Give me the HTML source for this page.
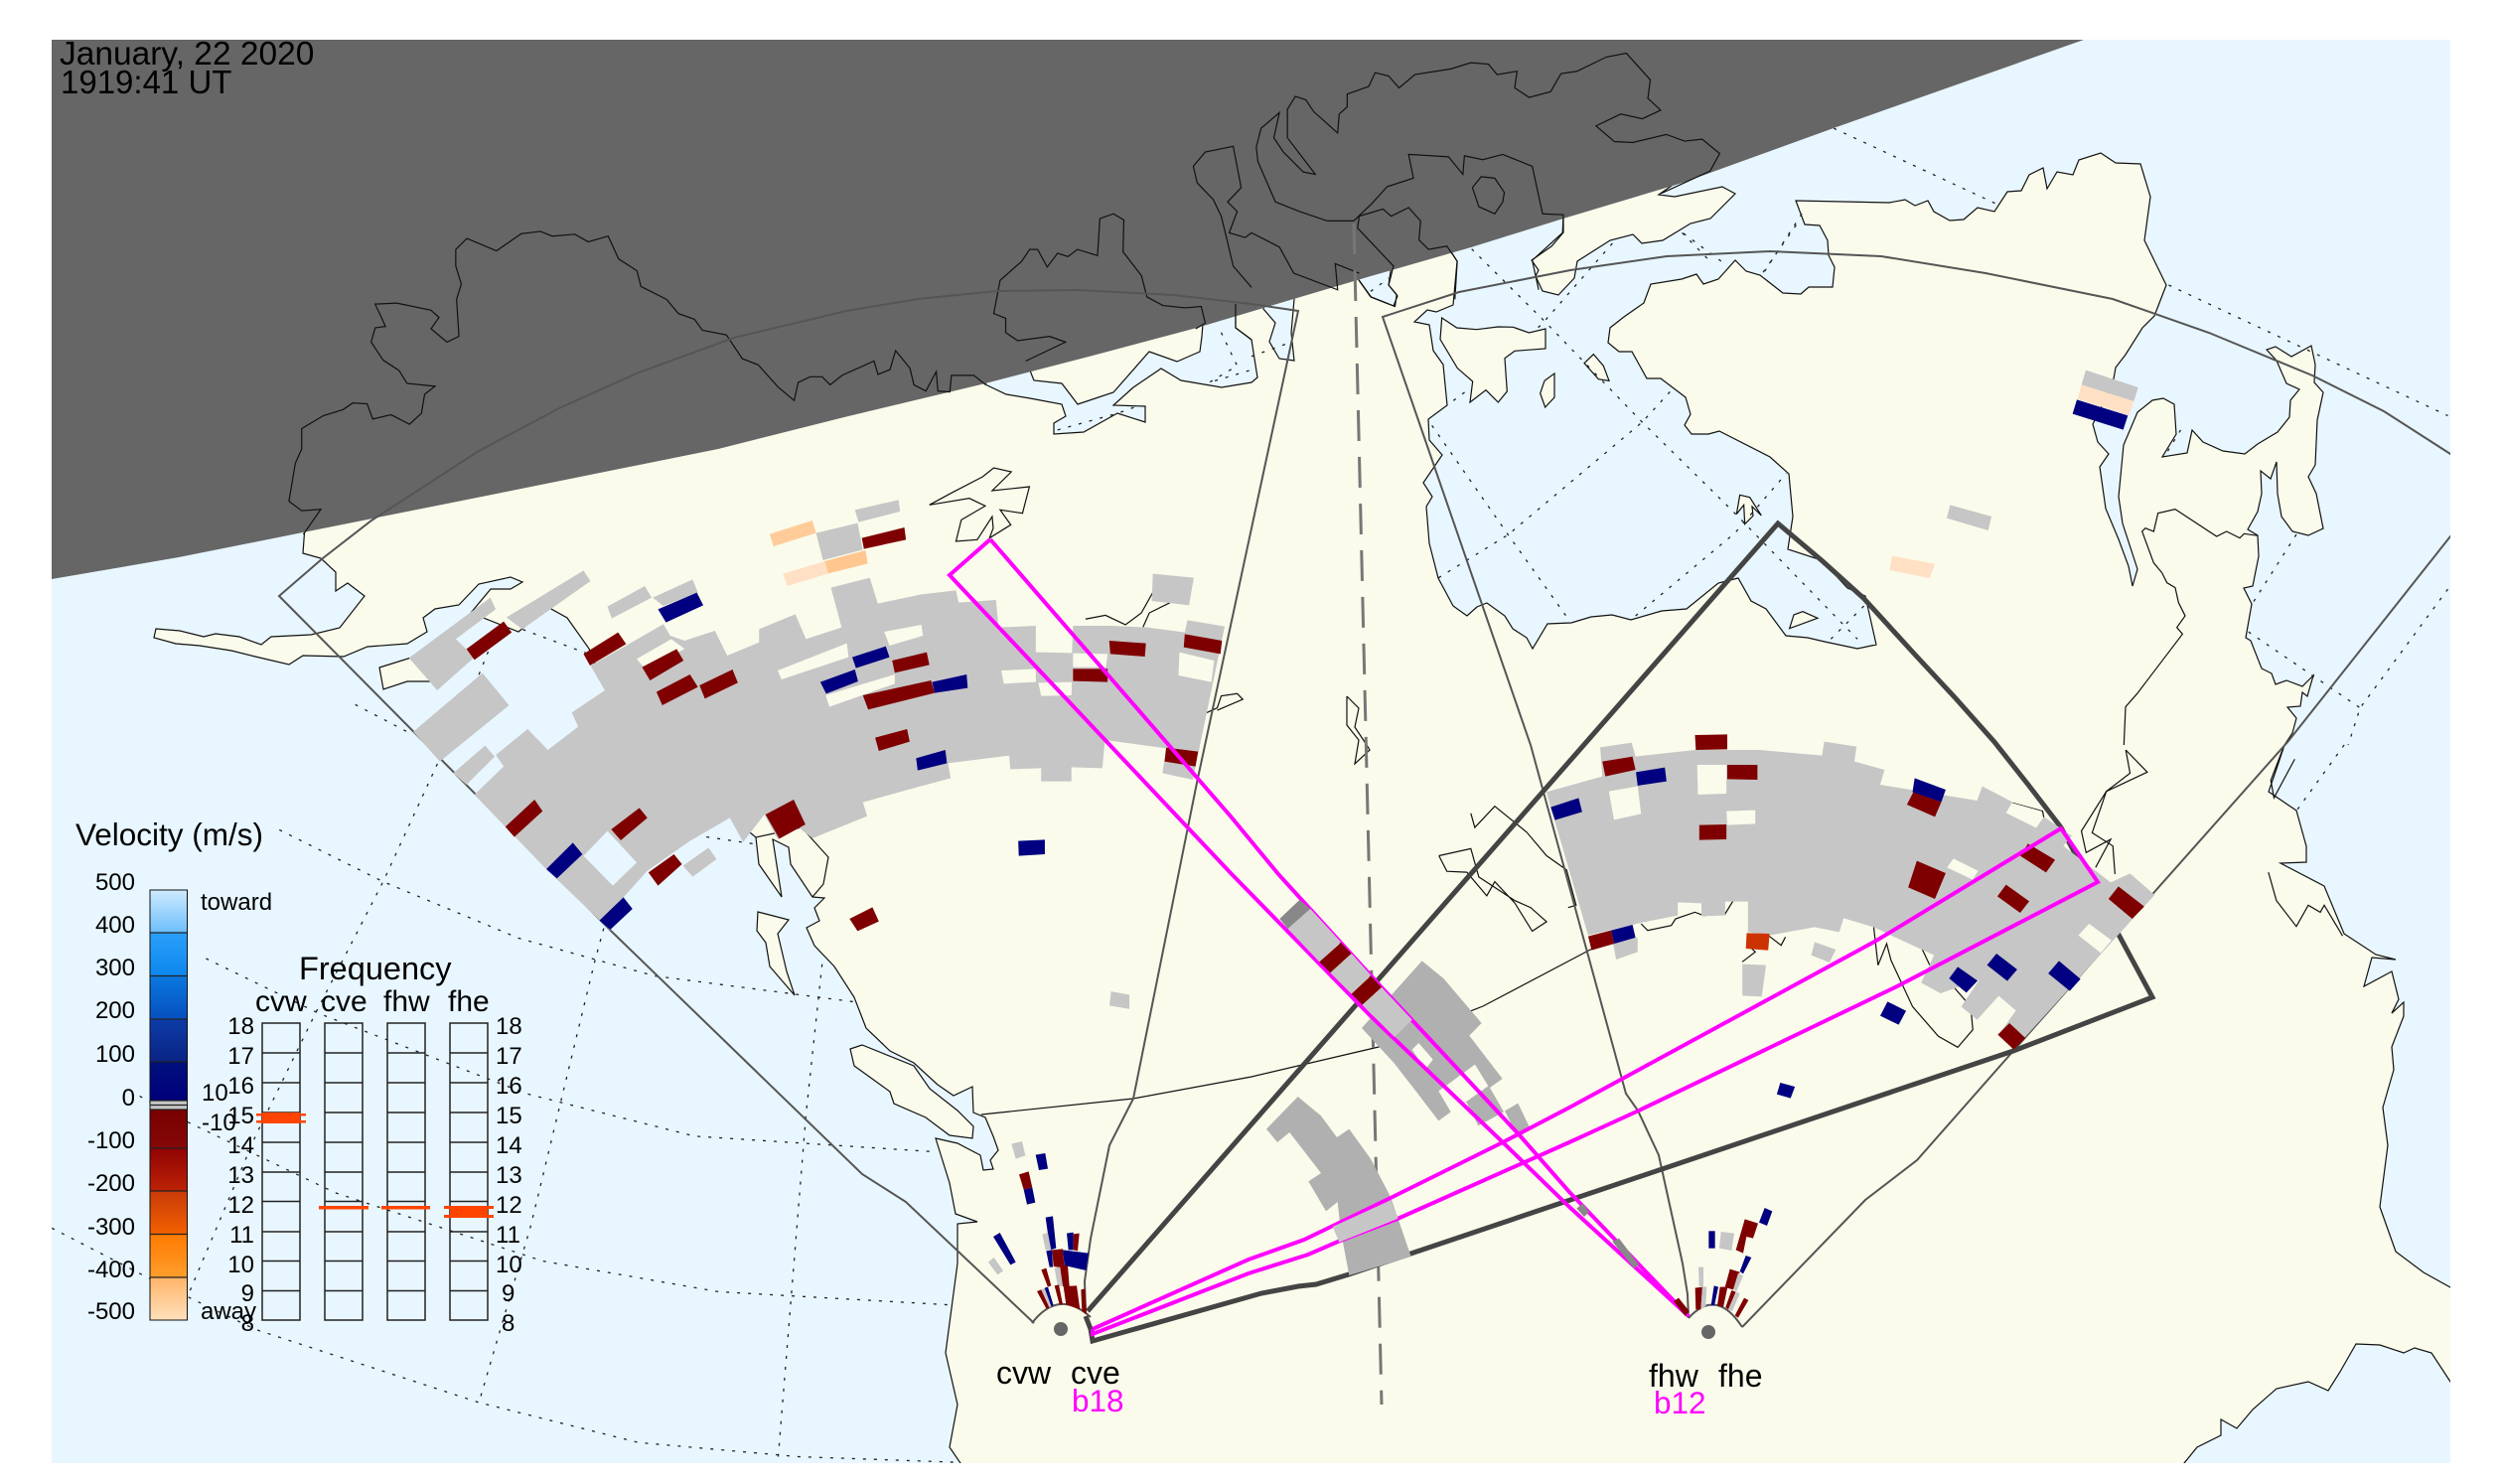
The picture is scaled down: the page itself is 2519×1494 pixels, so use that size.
<!DOCTYPE html>
<html><head><meta charset="utf-8"><style>
html,body{margin:0;padding:0;background:#fff;width:2519px;height:1494px;overflow:hidden}
svg{display:block;font-family:"Liberation Sans",sans-serif}
polyline,polygon,path,line,rect,circle{vector-effect:non-scaling-stroke}
.c{fill:none;stroke:#111;stroke-width:1.2}
.w{fill:#E8F6FF;stroke:#111;stroke-width:1.2}
.l{fill:#FAFBEB;stroke:#111;stroke-width:1.2}
.d{fill:none;stroke:#222;stroke-width:1.3;stroke-dasharray:3 8}
.r{fill:#7F0000}.n{fill:#000080}.g{fill:#C6C6C6}.h{fill:#FAFBEB}.o{fill:#E8F6FF}.b{fill:#B0B0B0}
.f{fill:none;stroke:#555;stroke-width:2}
.m{fill:none;stroke:#FF00FF;stroke-width:4}
.t{font-size:24px;fill:#000}
</style></head><body>
<svg width="2519" height="1494" viewBox="0 0 2519 1494" xmlns="http://www.w3.org/2000/svg">
<defs>
<clipPath id="fr"><rect x="52" y="40" width="2415" height="1433"/></clipPath>
<linearGradient id="cb" x1="0" y1="0" x2="0" y2="1">
<stop offset="0" stop-color="#CFEBFF"/><stop offset=".099" stop-color="#6CBEFB"/><stop offset=".1" stop-color="#2AA0FA"/><stop offset=".199" stop-color="#0D87EE"/><stop offset=".2" stop-color="#0A78E0"/><stop offset=".299" stop-color="#0650BE"/><stop offset=".3" stop-color="#0C3CA8"/><stop offset=".399" stop-color="#0A2484"/><stop offset=".4" stop-color="#00107C"/><stop offset=".488" stop-color="#00007C"/><stop offset=".489" stop-color="#C6C6C6"/><stop offset=".509" stop-color="#C6C6C6"/><stop offset=".51" stop-color="#780000"/><stop offset=".599" stop-color="#860808"/><stop offset=".6" stop-color="#900404"/><stop offset=".699" stop-color="#BC2206"/><stop offset=".7" stop-color="#C83A08"/><stop offset=".799" stop-color="#F26000"/><stop offset=".8" stop-color="#FF7A00"/><stop offset=".899" stop-color="#FF9D2C"/><stop offset=".9" stop-color="#FFB468"/><stop offset="1" stop-color="#FFDFBC"/>
</linearGradient>
</defs>
<g clip-path="url(#fr)">
<rect x="52" y="40" width="2415" height="1433" fill="#FAFBEB"/>
<!-- oceans -->
<polygon class="w" points="40,527 309,502 305,557 323,562 338,576 338,595 350,587 367,600 342,632 313,639 273,641 263,649 241,641 217,638 205,641 181,635 157,633 155,642 177,648 201,650 233,655 257,661 291,669 305,660 346,661 370,651 410,648 430,636 426,622 438,613 462,609 482,588 514,581 526,586 514,593 494,593 474,617 522,636 544,618 553,612 571,622 593,653 609,693 641,747 737,823 761,843 764,870 787,903 778,845 794,853 796,870 818,903 830,904 820,914 825,927 812,934 820,952 840,973 860,1004 872,1035 896,1058 920,1070 944,1092 960,1103 979,1094 980,1120 992,1125 1000,1144 1005,1158 997,1168 1000,1177 990,1178 987,1163 964,1151 942,1146 956,1191 962,1222 984,1230 964,1232 964,1272 952,1362 964,1414 956,1457 967,1473 967,1490 40,1490"/>
<polygon class="w" points="1457,150 1457,247 1467,263 1463,307 1446,314 1437,312 1424,324 1439,327 1443,353 1453,367 1457,408 1438,422 1439,443 1452,458 1433,486 1442,500 1436,510 1439,547 1448,582 1463,610 1477,620 1487,611 1497,607 1515,620 1523,633 1537,642 1543,653 1558,628 1582,627 1602,621 1623,619 1642,624 1673,615 1698,613 1730,587 1750,582 1763,605 1778,613 1798,640 1820,642 1837,646 1870,653 1889,649 1878,600 1860,592 1834,564 1800,553 1805,520 1801,477 1782,460 1731,434 1720,437 1703,437 1696,428 1702,417 1697,400 1672,381 1658,381 1643,354 1630,354 1619,345 1621,330 1635,319 1655,305 1662,286 1693,281 1708,276 1715,286 1730,281 1747,262 1758,273 1772,277 1795,295 1813,296 1821,289 1845,289 1847,269 1841,257 1840,242 1832,227 1817,226 1808,202 1902,204 1918,201 1928,207 1941,202 1947,213 1963,222 1977,221 1991,209 2008,213 2021,193 2035,192 2043,176 2057,169 2061,190 2071,173 2087,176 2093,161 2115,154 2130,164 2155,165 2165,198 2159,242 2181,287 2169,318 2157,330 2140,357 2130,370 2127,387 2107,427 2112,445 2123,457 2114,470 2120,512 2133,543 2143,570 2147,590 2152,573 2137,527 2133,500 2138,448 2152,415 2167,403 2178,401 2189,407 2191,437 2177,460 2202,456 2207,433 2218,445 2238,454 2260,457 2273,447 2293,435 2305,420 2306,403 2315,392 2302,386 2292,363 2282,352 2291,349 2307,359 2327,348 2331,367 2330,385 2339,395 2333,423 2331,468 2324,480 2332,497 2339,532 2324,539 2308,535 2297,520 2293,497 2292,465 2286,482 2276,474 2277,497 2273,515 2263,533 2273,539 2274,560 2268,590 2259,592 2267,608 2261,642 2266,645 2277,673 2287,678 2291,689 2302,685 2318,691 2329,680 2323,701 2318,697 2316,711 2303,712 2312,723 2308,738 2300,750 2292,774 2284,797 2312,816 2322,852 2322,868 2296,869 2340,892 2360,940 2392,961 2412,966 2388,964 2380,993 2408,978 2415,1006 2408,1020 2420,1009 2420,1023 2408,1054 2410,1077 2399,1115 2404,1153 2396,1215 2412,1260 2440,1281 2467,1296 2480,1296 2480,30 2098,30 1730,154 1670,196 1686,198 1734,188 1747,195 1722,220 1702,225 1674,242 1653,245 1644,236 1621,242 1588,263 1585,280 1569,297 1553,293 1546,278 1549,272 1542,262 1562,248 1574,234 1574,150"/>
<polygon class="w" points="2199,1490 2199,1473 2212,1457 2236,1445 2236,1429 2252,1438 2268,1419 2292,1398 2324,1391 2344,1400 2356,1381 2372,1353 2396,1354 2420,1362 2431,1357 2448,1362 2467,1391 2480,1391 2480,1490"/>
<polygon class="w" points="992,387 1013,397 1037,401 1069,407 1073,419 1061,426 1061,437 1091,435 1125,416 1153,425 1153,409 1121,408 1141,390 1169,371 1189,383 1230,390 1260,385 1266,380 1260,342 1244,330 1244,300 1213,300 1210,339 1208,354 1185,364 1157,354 1121,395 1085,407 1069,386 1041,383 1033,363 1000,370"/>
<polygon class="w" points="1272,290 1272,311 1284,325 1278,344 1288,361 1303,363 1300,335 1304,290"/>
<polygon class="w" points="1368,260 1368,282 1380,299 1403,308 1407,298 1398,287 1402,260"/>
<!-- islands -->
<polygon class="l" points="856,1056 868,1052 920,1073 936,1096 964,1118 980,1134 979,1146 956,1143 932,1125 900,1111 896,1099 860,1073"/>
<polygon class="l" points="763,918 794,926 783,940 792,978 800,1002 775,973 771,949 762,937"/>
<polygon class="l" points="382,672 414,662 440,670 434,686 410,686 386,694"/>
<g transform="translate(1380,220) scale(.33333)">
<polygon class="l" points="215,300 260,330 320,335 385,327 430,328 478,345 528,333 528,393 435,400 405,422 412,522 385,555 348,518 300,555 308,492 262,452 210,365"/>
<polygon class="l" points="527,570 512,528 525,490 555,468 555,540"/>
<polygon class="l" points="645,437 673,410 703,445 720,490 688,485"/>
<polygon class="l" points="1115,835 1145,842 1180,897 1152,870 1155,898 1130,923 1127,865 1105,893"/>
<polygon class="l" points="1265,1238 1278,1197 1305,1187 1350,1207"/>
<g class="d">
<polyline points="305,92 525,310 820,615 1090,880 1470,1270"/>
<polyline points="185,625 415,955 590,1200"/>
<polyline points="205,1085 415,955 820,615 905,522"/>
<polyline points="800,1200 1100,950 1255,770"/>
<polyline points="1285,20 1180,170"/>
<polyline points="730,75 525,310 500,335"/>
<polyline points="945,45 1060,130"/>
<polyline points="250,550 290,520"/>
<polyline points="0,220 55,180"/>
<polyline points="1390,1270 1500,1160"/>
</g></g>
<!-- dotted graticule -->
<g transform="translate(0,750) scale(.8036,.4745)" class="d">
<polyline points="350,180 480,290 650,410 820,490 1070,545"/>
<polyline points="258,453 400,570 660,740 870,830 1170,863"/>
<polyline points="175,745 235,800 420,950 680,1095 900,1160 1190,1188"/>
<polyline points="65,1025 185,1130 320,1240 600,1395 800,1480 1000,1510 1200,1522"/>
<polyline points="548,40 480,290 395,570 320,830 235,1170"/>
<polyline points="785,210 745,460 665,1020 600,1395"/>
<polyline points="1030,465 1010,780 975,1510"/>
<polyline points="885,195 945,210"/>
</g>
<g transform="scale(.8036,.4783)" class="d">
<polyline points="655,1325 735,1375"/>
<polyline points="600,1420 612,1370"/>
<polyline points="445,1483 510,1540"/>
<polyline points="1530,700 1550,770 1515,805"/>
<polyline points="1565,780 1515,805"/>
<polyline points="1325,905 1400,870 1425,855"/>
</g>
<g transform="translate(1260,0) scale(.803,.4783)" class="d">
<polyline points="730,270 935,430"/>
<polyline points="1150,600 1500,875"/>
<polyline points="540,490 575,550"/>
<polyline points="690,450 640,580"/>
<polyline points="1165,905 1145,960"/>
<polyline points="1310,1125 1255,1270"/>
<polyline points="1250,1330 1390,1490"/>
<polyline points="1500,1240 1390,1490 1375,1568"/>
<polyline points="0,750 50,720"/>
</g>
<g transform="translate(1260,750) scale(.803,.4745)" class="d"><polyline points="1370,0 1310,140"/></g>
<!-- night -->
<polygon fill="#666666" points="52,30 2120,30 2098,40 1846,129 1694,184 1574,220 1481,249 1380,278 1205,330 1100,358 988,387 850,420 723,452 500,497 305,536 180,561 52,583"/>
<!-- coast lines -->
<g transform="scale(.8036,.4783)" class="c">
<polyline points="380,1125 402,1072 378,1075 362,1055 370,975 378,945 378,902 405,875 430,862 442,848 460,850 467,882 490,873 513,893 528,870 532,830 545,813 510,807 500,780 480,758 465,720 470,690 483,687 470,640 497,638 540,653 550,668 540,692 560,720 575,708 572,630 578,598 571,560 571,525 585,502 622,528 653,492 677,487 692,497 720,493 737,509 762,497 775,545 798,570 803,603 835,630 850,660 870,672 880,695 910,705 930,755 950,768 975,815 995,843 1000,805 1015,793 1030,793 1040,810 1055,790 1095,760 1100,788 1115,778 1122,738 1140,775 1145,810 1160,823 1173,782 1175,823 1190,825 1192,790 1220,790 1235,810"/>
<polyline points="1285,760 1335,720 1315,708 1275,717 1260,700 1260,670 1245,660 1253,590 1280,550 1290,525 1300,525 1312,562 1325,533 1338,540 1350,525 1375,538 1378,460 1395,450 1408,463 1407,530 1430,580 1437,625 1457,643 1485,648 1505,645 1510,680 1498,692"/>
<polyline points="1568,490 1560,500 1540,490 1550,445 1538,425 1555,395 1545,308 1510,320 1495,350 1500,385 1520,420 1530,455 1538,510 1545,560 1568,605"/>
<polyline points="1548,640 1548,690 1568,715"/>
<polyline points="1360,1303 1385,1295 1410,1315 1430,1290 1445,1245 1470,1230"/>
<polyline points="1432,1320 1440,1290 1470,1265"/>
<polyline points="1512,1500 1525,1490 1530,1465 1550,1460 1557,1472 1525,1495"/>
</g>
<g transform="translate(1260,0) scale(.803,.4783)" class="c">
<polyline points="0,490 35,520 53,575 108,610 105,555 135,575"/>
<polyline points="133,480 178,560 172,600 182,620 180,645 150,625 135,590"/>
<polyline points="128,465 95,465 60,445 30,425 8,340 6,310 12,270 35,237 28,290 40,320 65,362 80,367 45,290 45,230 55,203 68,210 78,235 108,280 110,240 120,225 120,198 147,182 155,153 172,160 185,185 205,157 250,145 275,132 297,135 308,157 333,150 330,185 348,205 375,193 388,155 408,150 445,120 470,112 500,168 497,207 513,232 490,250 463,240 432,265 455,298 478,300 520,283 543,297 565,293 587,323 575,360 510,410"/>
<polyline points="128,465 150,430 170,393 203,375 197,325 247,330 265,367 267,328 290,336 315,325 352,350 365,450 391,452 390,490 352,548 360,610"/>
<polyline points="133,480 135,455 165,440 175,455 197,437 212,465 210,505 222,525 245,518 258,550 255,630"/>
<polygon points="277,395 288,372 305,375 317,405 315,425 305,450 285,435"/>
</g>
<polyline class="c" points="1356,701 1368,713 1364,732 1376,750 1379,755 1364,769 1368,745 1356,730 1356,701"/>
<polyline class="c" points="988,1122 1141,1106 1260,1084 1388,1054 1493,1013 1605,954"/>
<polyline class="c" points="818,903 829,890 834,863 807,833 761,843"/>
<g transform="translate(400,480) scale(.5357,.33333)" class="c">
<polyline points="1000,85 1040,50 1100,0 1121,-27 1154,-15 1118,42 1188,30 1175,110 1133,100 1153,145 1113,185 1120,155 1118,120 1090,190 1050,195 1060,130 1105,88 1075,65 1000,85"/>
</g>
<g transform="translate(1980,330) scale(.33333)" class="c">
<polyline points="475,1260 480,1145 515,1105 652,925 635,905 660,870 640,830 630,785 605,770 590,740 565,710 530,615 540,605 565,615 578,560 630,548 755,630 785,615 825,635 838,622 880,628"/>
</g>
<g transform="translate(1520,720) scale(.4337,.33333)" class="c">
<polyline points="1430,105 1480,172 1385,230 1352,355 1400,395 1405,480"/>
<polyline points="1430,105 1440,175 1385,230 1327,350 1338,415 1395,375 1360,460"/>
<polyline points="845,640 855,755 875,690 885,740 935,880 995,970 1040,1003 1075,950 1070,880 1020,805"/>
<polyline points="955,700 975,755"/>
<polyline points="1167,265 1237,290 1240,310"/>
<polyline points="1015,462 1045,460 1075,495"/>
<polyline points="305,630 320,650 375,635 385,615 430,595 450,605 500,600 518,562"/>
<polyline points="540,745 570,715 550,690"/>
<polyline points="600,665 630,695 640,670"/>
<polyline points="1345,690 1358,640"/>
</g>
<g transform="translate(1260,750) scale(.803,.4745)" class="c">
<polyline points="275,145 280,175 305,130 345,185 370,235 395,265 407,340 397,345"/>
<polyline points="235,235 275,220 285,280 330,330 350,345 370,375 352,395 330,335 305,290 295,320 270,270 245,268 235,235"/>
<polyline points="1275,270 1285,330 1310,385 1325,340 1340,355 1345,340 1368,405"/>
<polyline points="1295,0 1278,75 1282,112 1308,30"/>
</g>
<!-- dashed meridian -->
<line x1="1363" y1="225" x2="1391" y2="1414" stroke="#777" stroke-width="3" stroke-dasharray="31 16"/>
<!-- thin fov outlines -->
<polyline class="f" points="1041,1332 912,1210 868,1182 615,937 281,600 325,562 374,524 482,454 563,411 643,375 739,340 852,313 924,301 1004,293 1085,292 1181,297 1260,306 1307,313 1205,788 1141,1106 1117,1153 1098,1247 1092,1290 1093,1320"/>
<path class="f" d="M1039 1332Q1066 1297 1098 1326"/>
<polyline class="f" points="1700,1327 1699,1303 1694,1272 1670,1163 1649,1118 1637,1101 1541,750 1392,319 1469,294 1581,272 1678,258 1782,253 1894,258 1999,275 2127,301 2224,335 2328,378 2400,414 2467,457 2600,560"/>
<polyline class="f" points="2600,400 2467,540 2304,746 2027,1058 1930,1168 1878,1208 1754,1336"/>
<path class="f" d="M1700 1327Q1728 1296 1754 1336"/>
<!-- bold region -->
<polyline fill="none" stroke="#444" stroke-width="5" points="1095,1320 1790,527 1835,565 1876,602 1928,659 1968,702 2008,747 2042,790 2075,833 2167,1004 2027,1058 1358,1283 1325,1293 1307,1295 1270,1302 1100,1350 1098,1338 1093,1325"/>
<!-- dark beam echoes -->
<g transform="translate(1240,880) scale(.33333)">
<polygon class="b" points="575,262 640,315 755,450 718,488 818,618 780,645 822,718 745,760 710,690 705,690 660,630 625,655 662,718 625,745 560,660 490,570 393,465"/>
<polygon class="h" points="545,530 565,510 608,560 585,590"/>
<polygon class="h" points="660,630 735,575 775,640 705,690"/>
<polygon class="b" points="825,715 865,692 900,765 860,785"/>
<polygon class="b" points="105,770 200,672 270,730 318,795 355,770 420,860 480,975 542,1155 355,1212 330,1080 320,990 285,1018 232,928 270,903 175,780 138,810"/>
</g>
<!-- left main echoes -->
<g transform="translate(400,480) scale(.5357,.33333)">
<polygon class="g" points="22,547 175,365 185,400 110,490 145,545 75,645"/>
<polygon class="g" points="205,425 350,283 363,315 235,460"/>
<polygon class="g" points="395,392 465,330 478,365 403,428"/>
<polygon class="g" points="480,365 555,310 565,350 500,390"/>
<polygon class="g" points="30,770 160,593 210,690 80,860"/>
<polygon class="g" points="105,895 165,812 183,845 130,930"/>
<polygon class="g" points="145,960 200,875 185,840 245,762 283,825 340,755 328,712 390,645 363,570 430,510 500,445 513,480 540,495 597,465 620,540 680,500 680,460 748,415 768,490 835,455 815,335 888,305 903,383 985,355 1050,343 1055,380 1125,372 1130,455 1200,450 1200,530 1268,532 1270,450 1340,450 1410,455 1480,470 1485,433 1555,452 1495,915 1438,895 1445,820 1330,795 1325,880 1267,877 1267,920 1210,920 1210,880 1152,883 1150,842 1035,865 1040,910 960,945 875,983 883,1025 780,1092 755,1060 715,1095 690,1020 650,1103 625,1030 550,1100 470,1190 425,1270 440,1305 400,1370 280,1185 203,1057"/>
<polygon class="o" points="350,1145 395,1070 450,1165 405,1235"/>
<polygon class="h" points="450,550 515,490 540,520 465,580"/>
<polygon class="h" points="715,585 845,503 848,545 722,612"/>
<polygon class="h" points="805,660 935,597 935,625 812,695"/>
<polygon class="h" points="915,468 985,447 988,480 925,510"/>
<polygon class="h" points="1135,585 1200,580 1200,620 1140,625"/>
<polygon class="h" points="1205,622 1268,620 1267,660 1210,662"/>
<polygon class="h" points="1270,533 1335,535 1332,575 1270,575"/>
<polygon class="h" points="1470,530 1535,555 1530,620 1468,600"/>
<polygon class="g" points="1420,293 1497,305 1488,388 1418,375"/>
<polygon class="g" points="860,100 942,70 945,105 867,137"/>
<polygon class="g" points="787,170 865,140 875,220 800,252"/>
<polygon fill="#FFCC99" points="700,173 780,132 787,170 707,210"/>
<polygon fill="#FFC78F" points="803,255 880,222 884,262 810,292"/>
<polygon fill="#FFE0C4" points="725,293 803,255 810,292 733,330"/>
<polygon class="g" points="537,1175 585,1120 600,1155 555,1208"/>
<g class="r">
<polygon points="873,185 953,153 956,190 877,218"/>
<polygon points="130,520 200,437 215,470 145,553"/>
<polygon points="350,535 415,470 430,505 362,570"/>
<polygon points="460,575 525,520 538,555 475,615"/>
<polygon points="487,650 550,597 565,635 498,690"/>
<polygon points="568,630 630,582 640,622 578,670"/>
<polygon points="875,660 1003,615 1010,653 885,703"/>
<polygon points="930,555 995,530 1000,568 935,592"/>
<polygon points="898,788 958,762 963,800 905,828"/>
<polygon points="1270,580 1335,580 1335,620 1270,617"/>
<polygon points="1338,495 1407,503 1405,543 1340,535"/>
<polygon points="1480,475 1550,495 1547,535 1478,515"/>
<polygon points="1445,818 1505,830 1500,875 1442,860"/>
<polygon points="203,1057 258,975 273,1010 220,1088"/>
<polygon points="402,1065 455,1000 470,1030 420,1098"/>
<polygon points="692,1020 745,975 767,1050 718,1093"/>
<polygon points="472,1195 520,1140 535,1170 490,1235"/>
<polygon points="850,1335 893,1300 905,1343 865,1372"/>
</g>
<g class="n">
<polygon points="855,545 918,512 925,545 862,578"/>
<polygon points="795,620 860,582 866,618 806,655"/>
<polygon points="1005,620 1070,597 1072,638 1010,653"/>
<polygon points="975,850 1030,825 1033,865 978,887"/>
<polygon points="280,1185 330,1105 348,1140 300,1213"/>
<polygon points="380,1340 425,1270 442,1305 400,1368"/>
<polygon points="1167,1100 1217,1096 1217,1140 1168,1145"/>
<polygon points="490,400 563,350 575,388 505,440"/>
</g>
</g>
<!-- right main echoes -->
<g transform="translate(1520,720) scale(.4337,.33333)">
<polygon class="g" points="85,232 215,185 210,97 283,83 292,125 430,105 580,105 725,122 730,80 805,95 800,140 870,165 860,210 1085,258 1097,215 1167,262 1152,295 1222,340 1240,307 1305,365 1285,395 1395,505 1440,478 1497,543 1170,1010 1135,965 1175,892 1135,848 1085,920 1048,880 1090,800 1000,840 955,808 985,725 885,665 845,640 775,613 765,655 708,640 603,665 553,655 553,563 500,563 500,605 445,607 445,568 390,565 390,605 300,628 182,665"/>
<polygon class="h" points="230,230 297,215 305,298 242,316"/>
<polygon class="h" points="435,150 503,150 503,237 437,240"/>
<polygon class="h" points="503,290 570,287 570,328 505,332"/>
<polygon class="h" points="1015,460 1030,433 1087,470 1075,497"/>
<polygon class="h" points="1155,295 1167,265 1235,290 1222,340"/>
<polygon class="h" points="1320,665 1345,630 1397,680 1372,718"/>
<g class="g">
<polygon points="240,690 297,672 297,715 247,738"/>
<polygon points="540,752 595,755 585,850 540,847"/>
<polygon points="700,725 708,685 757,708 742,747"/>
</g>
<g class="r">
<polygon points="215,140 285,125 292,165 222,185"/>
<polygon points="430,60 505,58 505,103 432,105"/>
<polygon points="505,150 575,150 575,195 505,193"/>
<polygon points="440,332 503,330 503,375 440,377"/>
<polygon points="945,440 1012,477 987,555 925,520"/>
<polygon points="922,270 937,232 1002,262 987,307"/>
<polygon points="1185,425 1203,388 1266,437 1245,475"/>
<polygon points="1132,547 1152,512 1206,562 1185,597"/>
<polygon points="1390,555 1413,517 1473,578 1445,615"/>
<polygon points="1133,965 1160,930 1197,975 1170,1010"/>
<polygon points="182,668 235,650 243,690 190,710"/>
</g>
<g class="n">
<polygon points="95,278 160,250 168,292 105,317"/>
<polygon points="293,172 360,158 364,200 297,213"/>
<polygon points="940,190 1012,225 1002,262 935,232"/>
<polygon points="235,650 285,633 292,672 243,690"/>
<polygon points="1020,795 1040,760 1086,802 1060,838"/>
<polygon points="1108,755 1130,720 1178,768 1155,803"/>
<polygon points="1250,780 1275,742 1325,797 1300,833"/>
<polygon points="860,908 877,865 920,893 903,935"/>
<polygon points="620,1145 628,1110 662,1122 652,1157"/>
</g>
<polygon fill="#CC3300" points="550,658 603,660 600,710 548,705"/>
</g>
<!-- isolated echoes -->
<g transform="translate(1980,330) scale(.33333)">
<polygon class="g" points="360,128 518,180 505,222 347,172"/>
<polygon fill="#FFE0C4" points="347,172 505,222 490,265 335,215"/>
<polygon class="n" points="333,217 487,265 473,308 320,260"/>
<polygon class="g" points="-50,535 75,570 65,612 -60,575"/>
</g>
<g transform="translate(1260,0) scale(.803,.4783)">
<polygon fill="#FFE0C4" points="803,1170 857,1187 850,1217 800,1200"/>
</g>
<g transform="translate(0,750) scale(.8036,.4745)">
<polygon class="g" points="1392,523 1415,530 1415,560 1390,553"/>
</g>
<g transform="translate(960,1130) scale(.33333)">
<polygon class="g" points="175,65 207,57 217,100 188,110"/>
<polygon class="n" points="248,98 277,93 285,140 258,144"/>
<polygon class="r" points="198,157 227,148 238,197 212,203"/>
<polygon class="n" points="212,203 238,197 247,242 222,248"/>
<polygon class="n" points="278,287 300,283 310,380 292,385"/>
<polygon class="g" points="268,338 285,333 295,385 278,385"/>
<polygon class="n" points="120,345 140,333 188,422 172,430"/>
<polygon class="g" points="105,422 122,408 150,448 133,460"/>
<polygon class="n" points="342,335 362,332 362,385 347,385"/>
<polygon class="r" points="362,337 380,335 375,388 362,385"/>
<polygon class="n" points="280,388 298,385 300,437 290,437"/>
<polygon class="r" points="298,385 330,382 335,440 302,435"/>
<polygon class="n" points="330,385 408,395 400,447 335,432"/>
<polygon class="r" points="320,432 345,432 350,495 330,495"/>
<polygon class="g" points="305,440 322,437 330,495 315,495"/>
<polygon class="r" points="265,445 280,440 295,493 285,497"/>
<polygon class="r" points="252,510 265,505 290,560 280,562"/>
<polygon class="g" points="265,505 275,500 295,555 290,560"/>
<polygon class="n" points="275,500 285,497 302,553 295,555"/>
<polygon class="r" points="305,493 318,490 330,550 320,550"/>
<polygon class="r" points="332,495 372,493 382,565 340,550"/>
<polygon class="r" points="385,505 397,502 402,580 388,570"/>
</g>
<g transform="translate(1580,1130) scale(.33333)">
<polygon class="n" points="590,258 613,268 597,312 573,302"/>
<polygon class="r" points="530,292 570,305 555,350 535,345 525,395 503,385"/>
<polygon class="g" points="458,330 498,335 490,387 453,380"/>
<polygon class="n" points="421,328 440,328 440,380 421,380"/>
<polygon class="n" points="533,402 550,408 525,457 515,450"/>
<polygon class="r" points="485,443 515,452 495,505 470,498"/>
<polygon class="g" points="510,455 525,463 505,510 495,505"/>
<polygon class="g" points="390,437 405,437 405,495 392,495"/>
<polygon class="r" points="380,500 402,497 397,565 382,565"/>
<polygon class="g" points="402,495 415,497 412,555 397,565"/>
<polygon class="n" points="437,493 450,497 438,553 428,553"/>
<polygon class="r" points="455,497 478,497 465,558 447,553"/>
<polygon class="r" points="490,507 503,512 480,565 472,558"/>
<polygon class="g" points="505,512 515,517 492,570 480,565"/>
<polygon class="r" points="528,530 541,537 510,590 500,583"/>
</g>
<!-- magenta beams -->
<polyline class="m" points="997,543 1240,823 1287,880 1390,993 1530,1143 1580,1200 1700,1325"/>
<polyline class="m" points="997,543 956,579 1240,880 1380,1023 1513,1150 1580,1215 1700,1325"/>
<polyline class="m" points="1100,1338 1257,1268 1313,1248 1340,1235 1400,1206 1513,1150 1580,1115 1889,947 2075,834 2112,888 1910,993 1650,1118 1580,1150 1407,1227 1347,1250 1317,1263 1257,1282 1100,1343 1100,1338"/>
<!-- beam highlight cells over magenta -->
<g transform="translate(1240,880) scale(.33333)">
<polygon fill="#888" points="145,135 205,78 238,105 170,165"/>
<polygon class="g" points="170,165 238,105 330,205 265,265"/>
<polygon class="r" points="265,265 330,207 362,240 298,298"/>
<polygon class="g" points="298,298 362,240 420,305 362,362"/>
<polygon class="r" points="362,362 420,307 453,342 395,395"/>
<polygon class="g" points="395,395 453,342 545,440 492,492"/>
<polygon class="g" points="305,1065 480,985 503,1040 325,1112"/>
</g>
<g transform="translate(1580,1130) scale(.33333)">
<polygon class="r" points="315,540 330,530 362,570 350,585"/>
<polygon fill="#888" points="22,260 40,245 60,270 45,285"/>
<polygon fill="#888" points="130,360 150,350 210,430 195,440"/>
</g>
<circle cx="1068" cy="1338" r="7" fill="#666"/>
<circle cx="1720" cy="1341" r="7" fill="#666"/>
</g>
<!-- titles -->
<text x="60" y="65" font-size="33.500" fill="#000">January, 22 2020</text>
<text x="61" y="94" font-size="33" fill="#000">1919:41 UT</text>
<text x="1003" y="1393" font-size="32">cvw</text>
<text x="1078" y="1393" font-size="32">cve</text>
<text x="1079" y="1421" font-size="31.500" fill="#FF00FF">b18</text>
<text x="1660" y="1396" font-size="32">fhw</text>
<text x="1730" y="1396" font-size="32">fhe</text>
<text x="1665" y="1423" font-size="31.500" fill="#FF00FF">b12</text>
<!-- velocity legend -->
<text x="76" y="851" font-size="31.500">Velocity (m/s)</text>
<rect x="151" y="896" width="37.500" height="433" fill="url(#cb)" stroke="#111" stroke-width="1"/>
<g stroke="#222" stroke-width="1.3">
<line x1="151" x2="188" y1="939" y2="939"/><line x1="151" x2="188" y1="982.500" y2="982.500"/><line x1="151" x2="188" y1="1026" y2="1026"/><line x1="151" x2="188" y1="1069" y2="1069"/><line x1="151" x2="188" y1="1108" y2="1108"/><line x1="151" x2="188" y1="1112.500" y2="1112.500"/><line x1="151" x2="188" y1="1117" y2="1117"/><line x1="151" x2="188" y1="1156" y2="1156"/><line x1="151" x2="188" y1="1199" y2="1199"/><line x1="151" x2="188" y1="1242.500" y2="1242.500"/><line x1="151" x2="188" y1="1286" y2="1286"/>
</g>
<g class="t" text-anchor="end">
<text x="136" y="896">500</text><text x="136" y="939">400</text><text x="136" y="982">300</text><text x="136" y="1025">200</text><text x="136" y="1069">100</text><text x="136" y="1113">0</text><text x="136" y="1156">-100</text><text x="136" y="1199">-200</text><text x="136" y="1243">-300</text><text x="136" y="1286">-400</text><text x="136" y="1328">-500</text>
</g>
<text class="t" x="202" y="916">toward</text>
<text class="t" x="202" y="1328">away</text>
<text class="t" x="203" y="1108">10</text>
<text class="t" x="203" y="1138">-10</text>
<!-- frequency legend -->
<text x="301" y="986" font-size="32.500">Frequency</text>
<g font-size="30"><text x="257" y="1018">cvw</text><text x="323" y="1018">cve</text><text x="386" y="1018">fhw</text><text x="451" y="1018">fhe</text></g>
<g fill="none" stroke="#222" stroke-width="1.5">
<rect x="264" y="1030" width="38" height="299"/><rect x="327" y="1030" width="38" height="299"/><rect x="390" y="1030" width="38" height="299"/><rect x="453" y="1030" width="38" height="299"/>
<path d="M264 1060H302M327 1060H365M390 1060H428M453 1060H491M264 1090H302M327 1090H365M390 1090H428M453 1090H491M264 1120H302M327 1120H365M390 1120H428M453 1120H491M264 1150H302M327 1150H365M390 1150H428M453 1150H491M264 1180H302M327 1180H365M390 1180H428M453 1180H491M264 1209.500H302M327 1209.500H365M390 1209.500H428M453 1209.500H491M264 1240H302M327 1240H365M390 1240H428M453 1240H491M264 1269.500H302M327 1269.500H365M390 1269.500H428M453 1269.500H491M264 1299.500H302M327 1299.500H365M390 1299.500H428M453 1299.500H491"/>
</g>
<g fill="#FF4400">
<rect x="264" y="1120" width="38" height="11"/><rect x="258" y="1121" width="50" height="2.500"/><rect x="258" y="1128" width="50" height="2.500"/>
<rect x="321" y="1214" width="50" height="3.500"/><rect x="384" y="1214" width="49" height="3.500"/>
<rect x="453" y="1214" width="38" height="12"/><rect x="447" y="1214" width="50" height="3"/><rect x="447" y="1223" width="50" height="3"/>
</g>
<g class="t" text-anchor="end">
<text x="256" y="1041">18</text><text x="256" y="1071">17</text><text x="256" y="1101">16</text><text x="256" y="1131">15</text><text x="256" y="1161">14</text><text x="256" y="1191">13</text><text x="256" y="1221">12</text><text x="256" y="1251">11</text><text x="256" y="1281">10</text><text x="256" y="1310">9</text><text x="256" y="1340">8</text>
</g>
<g class="t">
<text x="499" y="1041">18</text><text x="499" y="1071">17</text><text x="499" y="1101">16</text><text x="499" y="1131">15</text><text x="499" y="1161">14</text><text x="499" y="1191">13</text><text x="499" y="1221">12</text><text x="499" y="1251">11</text><text x="499" y="1281">10</text><text x="505" y="1310">9</text><text x="505" y="1340">8</text>
</g>
</svg>
</body></html>
